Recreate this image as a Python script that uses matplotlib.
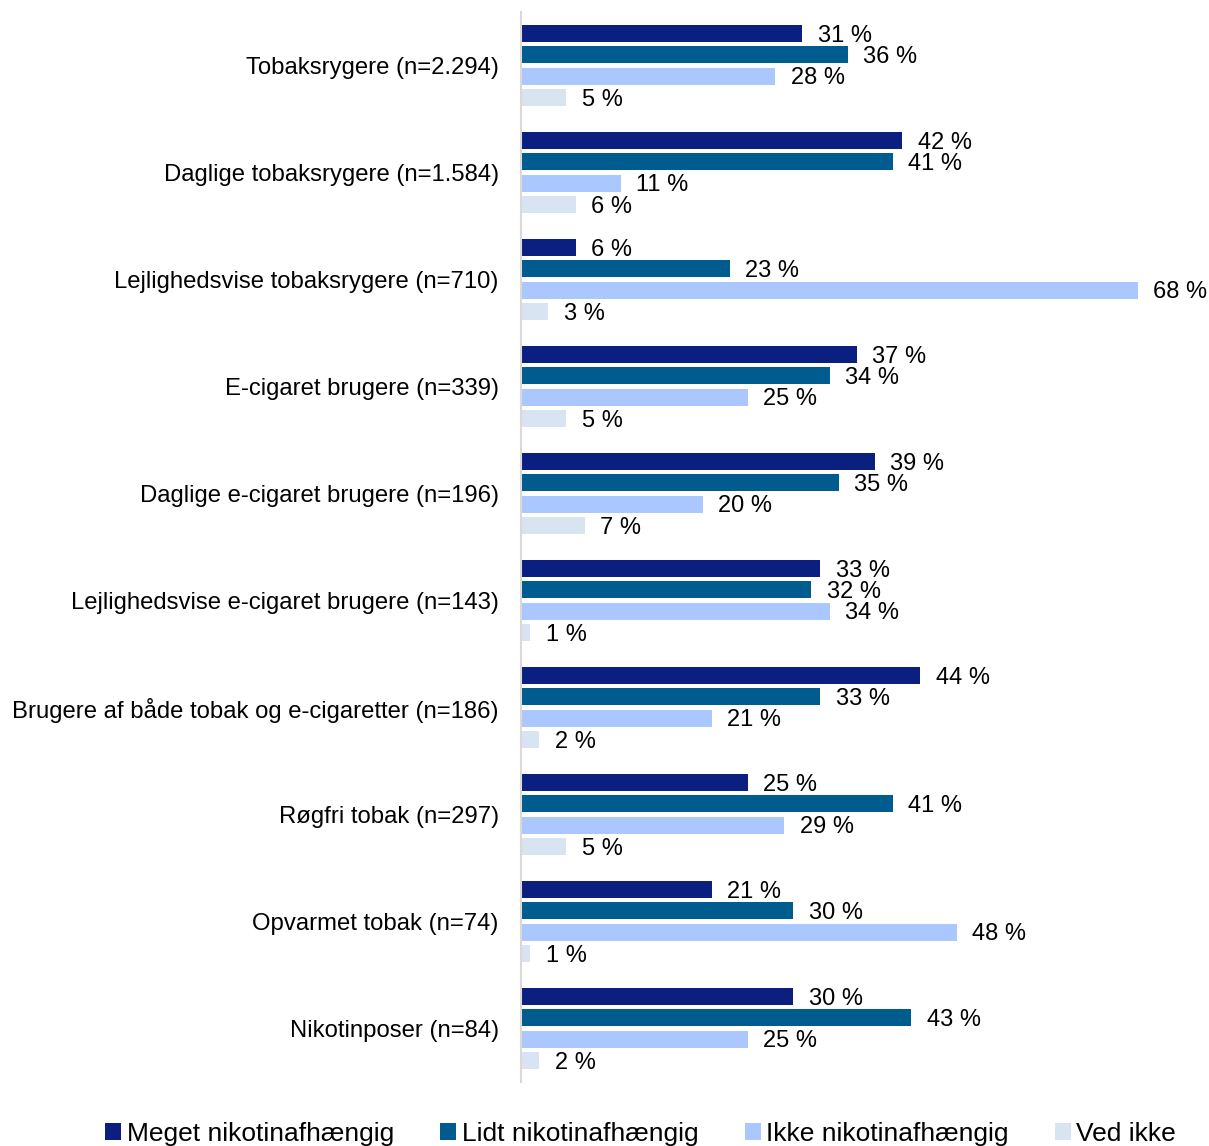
import matplotlib.pyplot as plt
import numpy as np

plt.rcParams['font.family'] = ['Liberation Sans', 'DejaVu Sans']

categories = [
    "Tobaksrygere (n=2.294)",
    "Daglige tobaksrygere (n=1.584)",
    "Lejlighedsvise tobaksrygere (n=710)",
    "E-cigaret brugere (n=339)",
    "Daglige e-cigaret brugere (n=196)",
    "Lejlighedsvise e-cigaret brugere (n=143)",
    "Brugere af både tobak og e-cigaretter (n=186)",
    "Røgfri tobak (n=297)",
    "Opvarmet tobak (n=74)",
    "Nikotinposer (n=84)",
]

series_names = ["Meget nikotinafhængig", "Lidt nikotinafhængig",
                "Ikke nikotinafhængig", "Ved ikke"]

meget = [31, 42, 6, 37, 39, 33, 44, 25, 21, 30]
lidt = [36, 41, 23, 34, 35, 32, 33, 41, 30, 43]
ikke = [28, 11, 68, 25, 20, 34, 21, 29, 48, 25]
ved_ikke = [5, 6, 3, 5, 7, 1, 2, 5, 1, 2]

colors = ["#0a1f80", "#005c8f", "#aac8ff", "#d9e4f2"]

fig = plt.figure(figsize=(12.09, 11.46), dpi=100)
ax = fig.add_axes([0.431, 0.0558, 0.5103, 0.9337])

y = np.arange(len(categories))
offsets = [-0.3, -0.1, 0.1, 0.3]

for vals, off, col, name in zip([meget, lidt, ikke, ved_ikke], offsets, colors, series_names):
    ax.barh(y + off, vals, height=0.16, color=col, label=name)
    for yi, v in zip(y, vals):
        ax.text(v + 1.7, yi + off + 0.02, f"{v} %", va="center", ha="left",
                fontsize=17, color="black", clip_on=False)

ax.set_xlim(0, 68)
ax.set_ylim(9.5, -0.5)
ax.set_yticks(y)
ax.set_yticklabels(categories, fontsize=17.2)
ax.tick_params(axis="y", length=0, pad=16)
ax.set_xticks([])

for s in ["top", "right", "bottom"]:
    ax.spines[s].set_visible(False)
ax.spines["left"].set_color("#d9d9d9")
ax.spines["left"].set_linewidth(1.5)

ax.legend(loc="center", bbox_to_anchor=(0.53, 0.0105), bbox_transform=fig.transFigure,
          ncol=4, frameon=False, fontsize=19, handlelength=0.6, handleheight=0.6,
          handletextpad=0.2, columnspacing=1.77)

fig.savefig("out.png", dpi=100)
